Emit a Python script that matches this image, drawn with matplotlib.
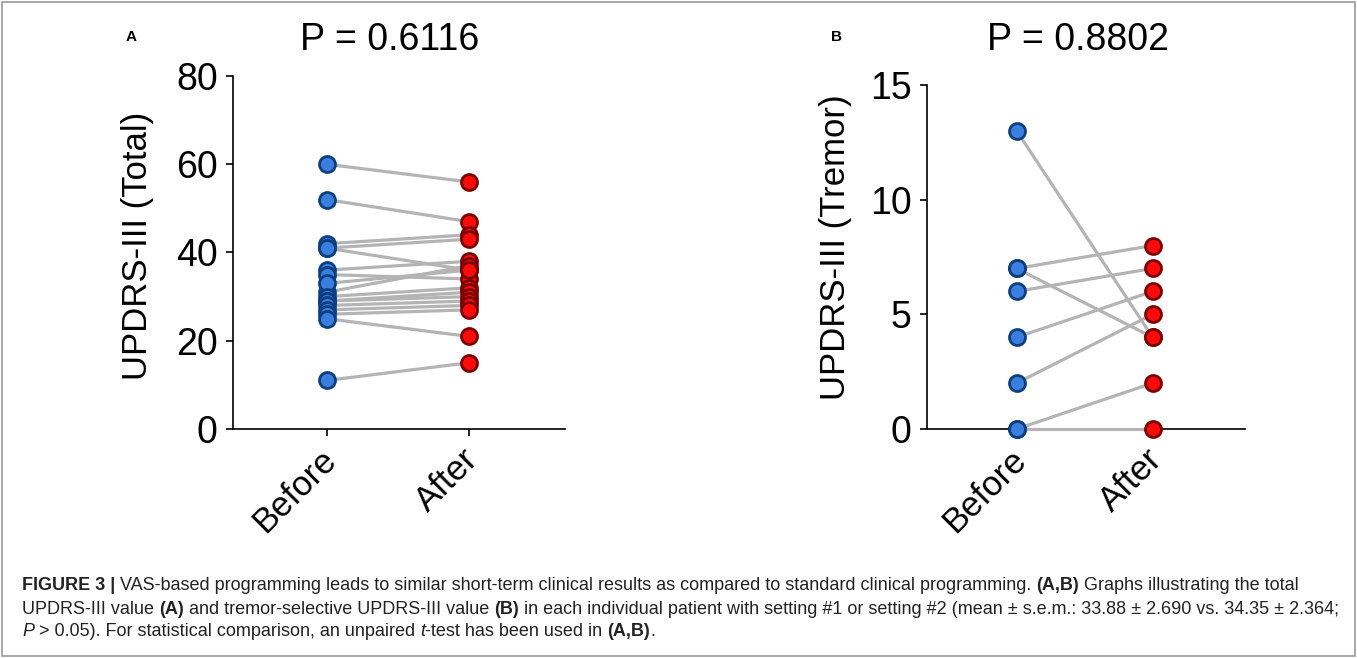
import numpy as np
import matplotlib
matplotlib.use("Agg")
import matplotlib.pyplot as plt
import matplotlib.transforms as mtransforms
from matplotlib.patches import Rectangle

plt.rcParams['font.family'] = ['Liberation Sans', 'DejaVu Sans']

# ---- data ----
groups = ["Before", "After"]

total_before = [60, 52, 42, 41, 41, 36, 35, 31, 33, 30, 29, 29, 28, 27, 26, 25, 11]
total_after = [56, 47, 44, 43, 36, 38, 34, 37, 36, 32, 31, 30, 29, 28, 27, 21, 15]

tremor_before = [13, 7, 7, 6, 4, 2, 0, 0]
tremor_after = [4, 8, 4, 7, 6, 5, 2, 0]

p_total = "P = 0.6116"
p_tremor = "P = 0.8802"

W, H = 1357, 658
fig = plt.figure(figsize=(W / 100, H / 100), dpi=100)

blue_face, blue_edge = "#3a7fe0", "#0b3f80"
red_face, red_edge = "#ff0a0a", "#7a0000"


def paired_panel(ax, before, after, ymax, yticks):
    x = np.arange(len(groups))
    for b, a in zip(before, after):
        ax.plot(x, [b, a], color="#b4b4b4", lw=2.3, zorder=2.6, solid_capstyle="round",
                clip_on=False)
    ax.plot(np.zeros(len(before)), before, "o", ms=11.5, mfc=blue_face, mec=blue_edge,
            mew=2.0, zorder=3, clip_on=False)
    ax.plot(np.ones(len(after)), after, "o", ms=11.5, mfc=red_face, mec=red_edge,
            mew=2.0, zorder=3, clip_on=False)
    ax.set_xlim(-0.66, 1.68)
    ax.set_ylim(0, ymax)
    ax.set_yticks(yticks)
    ax.set_xticks(x)
    ax.set_xticklabels(groups, rotation=45, ha="right", va="top", rotation_mode="anchor",
                       fontsize=25)
    ax.tick_params(axis="y", labelsize=27, length=5, width=1.2, pad=6)
    ax.tick_params(axis="x", length=5, width=1.2, pad=5)
    for s in ["top", "right"]:
        ax.spines[s].set_visible(False)
    for s in ["left", "bottom"]:
        ax.spines[s].set_linewidth(1.2)
    # nudge the rotated labels a little to the left
    shift = mtransforms.ScaledTranslation(-7 / 100, 0, fig.dpi_scale_trans)
    for lab in ax.get_xticklabels():
        lab.set_transform(lab.get_transform() + shift)


axA = fig.add_axes([233 / W, 1 - 429 / H, 332 / W, 353 / H])
paired_panel(axA, total_before, total_after, 80, [0, 20, 40, 60, 80])
axB = fig.add_axes([927 / W, 1 - 429 / H, 318 / W, 344 / H])
paired_panel(axB, tremor_before, tremor_after, 15, [0, 5, 10, 15])

fig.text(137 / W, 1 - 246 / H, "UPDRS-III (Total)", rotation=90, fontsize=25,
         ha="center", va="center")
fig.text(835 / W, 1 - 247 / H, "UPDRS-III (Tremor)", rotation=90, fontsize=25,
         ha="center", va="center")
fig.text(390 / W, 1 - 40 / H, p_total, fontsize=27, ha="center", va="center")
fig.text(1078 / W, 1 - 40 / H, p_tremor, fontsize=27, ha="center", va="center")
fig.text(131 / W, 1 - 37 / H, "A", fontsize=11, fontweight="bold", ha="center", va="center")
fig.text(836 / W, 1 - 37 / H, "B", fontsize=11, fontweight="bold", ha="center", va="center")

# frame around the figure
fig.patches.append(Rectangle((2 / W, 2 / H), 1 - 4 / W, 1 - 4 / H, transform=fig.transFigure,
                             fill=False, ec="#9a9a9a", lw=1.2))

# caption, written as runs of plain / bold / italic text
caption = [
    [("FIGURE 3 |", "bold", "normal"),
     (" VAS-based programming leads to similar short-term clinical results as compared to standard clinical programming. ", "normal", "normal"),
     ("(A,B)", "bold", "normal"),
     (" Graphs illustrating the total", "normal", "normal")],
    [("UPDRS-III value ", "normal", "normal"),
     ("(A)", "bold", "normal"),
     (" and tremor-selective UPDRS-III value ", "normal", "normal"),
     ("(B)", "bold", "normal"),
     (" in each individual patient with setting #1 or setting #2 (mean \u00b1 s.e.m.: 33.88 \u00b1 2.690 vs. 34.35 \u00b1 2.364;", "normal", "normal")],
    [("P", "normal", "italic"),
     (" > 0.05). For statistical comparison, an unpaired ", "normal", "normal"),
     ("t", "normal", "italic"),
     ("-test has been used in ", "normal", "normal"),
     ("(A,B)", "bold", "normal"),
     (".", "normal", "normal")],
]
line_y = [586, 609, 632]

fig.canvas.draw()
renderer = fig.canvas.get_renderer()
for runs, yy in zip(caption, line_y):
    xpos = 22
    for txt, weight, style in runs:
        t = fig.text(xpos / W, 1 - yy / H, txt, fontsize=13, fontweight=weight,
                     fontstyle=style, color="#222222", ha="left", va="center")
        bb = t.get_window_extent(renderer=renderer)
        xpos += bb.width

fig.savefig("out.png", dpi=100)
